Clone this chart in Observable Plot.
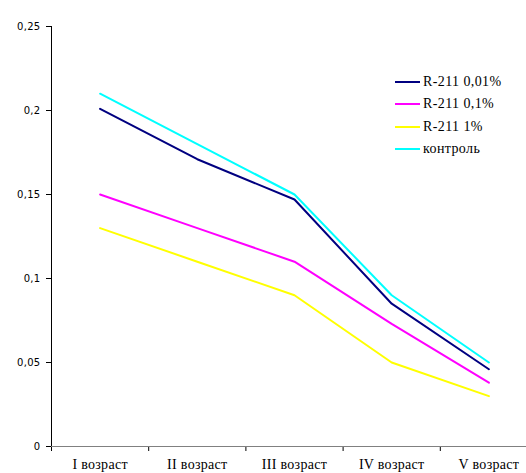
<!DOCTYPE html>
<html>
<head>
<meta charset="utf-8">
<script src="https://cdn.jsdelivr.net/npm/d3@7"></script>
<script src="https://cdn.jsdelivr.net/npm/@observablehq/plot@0.6"></script>
<style>
  html, body { margin: 0; padding: 0; background: #fff; }
  #wrap { position: relative; width: 526px; height: 473px; overflow: hidden; }
  #legend { position: absolute; left: 395px; top: 71px; font-family: "Liberation Serif", serif; font-size: 14px; letter-spacing: 0.4px; color: #000; }
  #legend .row { display: flex; align-items: center; height: 22.3px; }
  #legend .sw { width: 25px; height: 2px; margin-right: 3px; }
  svg text { letter-spacing: 0.3px; }
</style>
</head>
<body>
<div id="wrap"><div id="chart"></div><div id="legend"></div></div>
<script>
const categories = ["I возраст", "II возраст", "III возраст", "IV возраст", "V возраст"];
const seriesNames = ["R-211 0,01%", "R-211 0,1%", "R-211 1%", "контроль"];
const seriesColors = ["#000080", "#ff00ff", "#ffff00", "#00ffff"];
const r211_001 = [0.201, 0.171, 0.147, 0.085, 0.046];
const r211_01 = [0.150, 0.130, 0.110, 0.073, 0.038];
const r211_1 = [0.130, 0.110, 0.090, 0.050, 0.030];
const control = [0.210, 0.180, 0.150, 0.090, 0.050];
const yTicks = [0, 0.05, 0.1, 0.15, 0.2, 0.25];

const seriesValues = [r211_001, r211_01, r211_1, control];
const rows = [];
seriesValues.forEach((vals, s) => vals.forEach((v, i) => rows.push({series: seriesNames[s], cat: i + 0.5, value: v})));

const fmt = d => d === 0 ? "0" : String(d).replace(".", ",");

const chart = Plot.plot({
  width: 526,
  height: 473,
  marginTop: 26,
  marginBottom: 27,
  marginLeft: 51,
  marginRight: 0,
  style: {background: "#fff", overflow: "visible"},
  x: {domain: [0, 5], range: [51, 537]},
  y: {domain: [0, 0.25]},
  color: {domain: seriesNames, range: seriesColors},
  marks: [
    Plot.axisY({ticks: yTicks, tickFormat: fmt, tickSize: 5, tickPadding: 6, label: null,
      fontFamily: "DejaVu Sans, sans-serif", fontSize: 10, stroke: "#000"}),
    Plot.axisX({ticks: [0, 1, 2, 3, 4, 5], tickFormat: () => "", tickSize: 5, label: null, stroke: "#000"}),
    Plot.axisX({ticks: [0.5, 1.5, 2.5, 3.5, 4.5], tickFormat: d => categories[Math.floor(d)], tickSize: 0,
      tickPadding: 13, label: null, fontFamily: "Liberation Serif, serif", fontSize: 14}),
    Plot.ruleX([0], {stroke: "#000", strokeWidth: 1}),
    Plot.ruleY([0], {stroke: "#808080", strokeWidth: 1.2}),
    Plot.line(rows, {x: "cat", y: "value", z: "series", stroke: "series", strokeWidth: 2})
  ]
});
document.getElementById("chart").appendChild(chart);

const legend = document.getElementById("legend");
seriesNames.forEach((name, i) => {
  const row = document.createElement("div");
  row.className = "row";
  const sw = document.createElement("div");
  sw.className = "sw";
  sw.style.background = seriesColors[i];
  const t = document.createElement("span");
  t.textContent = name;
  row.appendChild(sw);
  row.appendChild(t);
  legend.appendChild(row);
});
</script>
</body>
</html>
